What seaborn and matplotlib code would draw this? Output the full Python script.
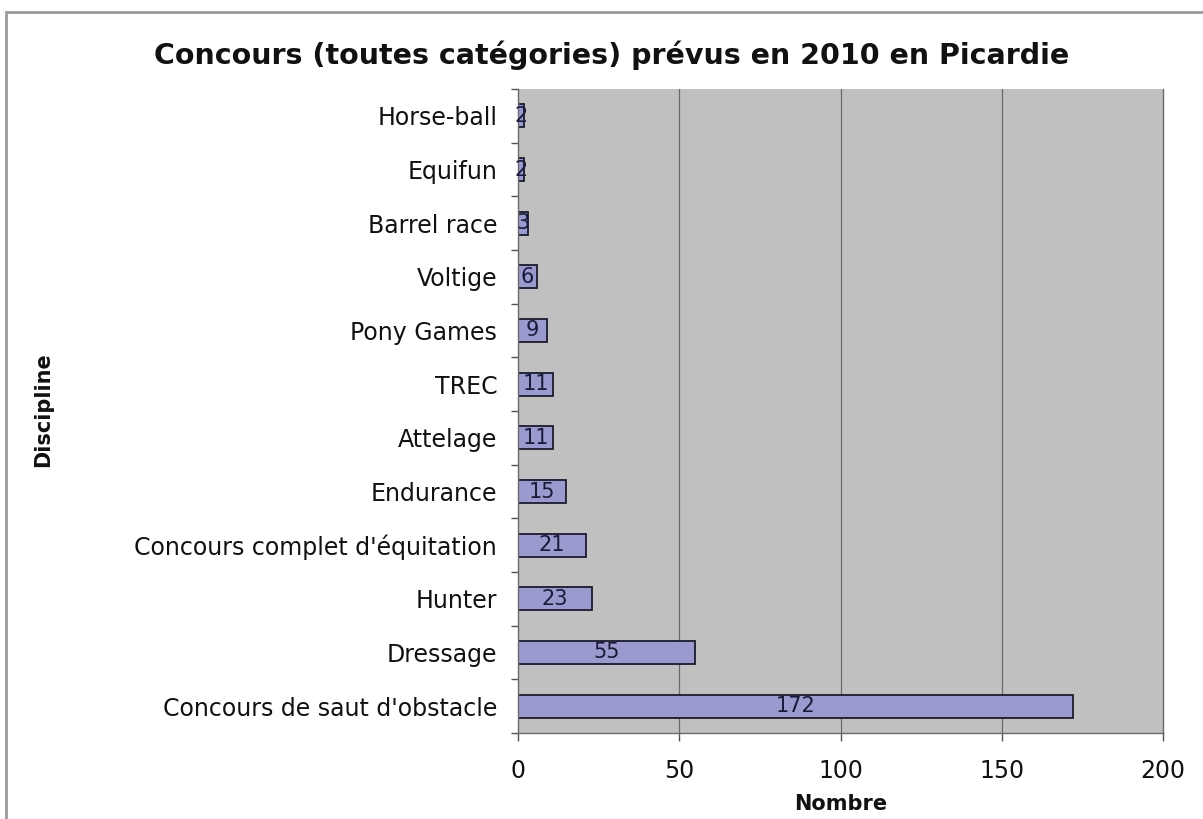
import matplotlib
matplotlib.use("Agg")
import matplotlib.pyplot as plt
import matplotlib.patches as mpatches
from matplotlib.ticker import FixedLocator
import seaborn as sns
import pandas as pd

disciplines = ["Horse-ball", "Equifun", "Barrel race", "Voltige", "Pony Games", "TREC",
               "Attelage", "Endurance", "Concours complet d'équitation", "Hunter",
               "Dressage", "Concours de saut d'obstacle"]
values = [2, 2, 3, 6, 9, 11, 11, 15, 21, 23, 55, 172]
x_ticks = [0, 50, 100, 150, 200]

df = pd.DataFrame({"Discipline": disciplines, "Nombre": values})

sns.set_theme(style="white")
plt.rcParams['font.family'] = ['DejaVu Sans']

fig = plt.figure(figsize=(12.03, 8.19), dpi=100)
fig.patch.set_facecolor("white")
# outer chart frame
fig.patches.append(mpatches.Rectangle((6/1203, -0.01), 1.0, 1 - 12/819 + 0.01,
                                      transform=fig.transFigure, fill=False,
                                      edgecolor="#9a9a9a", linewidth=2.0))

ax = fig.add_axes([518/1203, 1 - 733/819, (1163 - 518)/1203, (733 - 89)/819])
ax.set_facecolor("#c0c0c0")

sns.barplot(data=df, x="Nombre", y="Discipline", orient="h", ax=ax,
            color="#9a9acf", saturation=1, width=0.43,
            edgecolor="#1a1a2e", linewidth=1.3)

ax.set_xlim(0, 200)
ax.set_ylim(len(disciplines) - 0.5, -0.5)
ax.set_xticks(x_ticks)
ax.set_xticklabels([str(t) for t in x_ticks], fontsize=16)
ax.tick_params(axis="y", which="major", length=0, labelsize=17, pad=15,
               labelcolor="#111111")
ax.tick_params(axis="x", which="major", length=6, width=1, direction="out",
               color="#555555", labelsize=17, pad=13, labelcolor="#111111")
ax.yaxis.set_minor_locator(FixedLocator([i - 0.5 for i in range(len(disciplines) + 1)]))
ax.tick_params(axis="y", which="minor", length=5, width=1, color="#555555", left=True)
ax.tick_params(axis="x", bottom=True)

for x in x_ticks[1:-1]:
    ax.axvline(x, color="#6a6a6a", linewidth=0.9, zorder=0)

ax.spines["top"].set_visible(False)
ax.spines["right"].set_visible(True)
for side in ["right", "left", "bottom"]:
    ax.spines[side].set_color("#6a6a6a")
    ax.spines[side].set_linewidth(1)

for c in ax.containers:
    ax.bar_label(c, label_type="center", fontsize=15, color="#1a1a3a")

ax.set_xlabel("Nombre", fontsize=15, fontweight="bold", labelpad=8, color="#111111")
ax.set_ylabel("")
fig.text(43/1203, 1 - 410/819, "Discipline", rotation=90, fontsize=15,
         fontweight="bold", ha="center", va="center", color="#111111")

fig.text(612/1203, 1 - 55/819, "Concours (toutes catégories) prévus en 2010 en Picardie",
         fontsize=20.5, fontweight="bold", ha="center", va="center", color="#111111")

fig.savefig("out.png", dpi=100, facecolor="white")
